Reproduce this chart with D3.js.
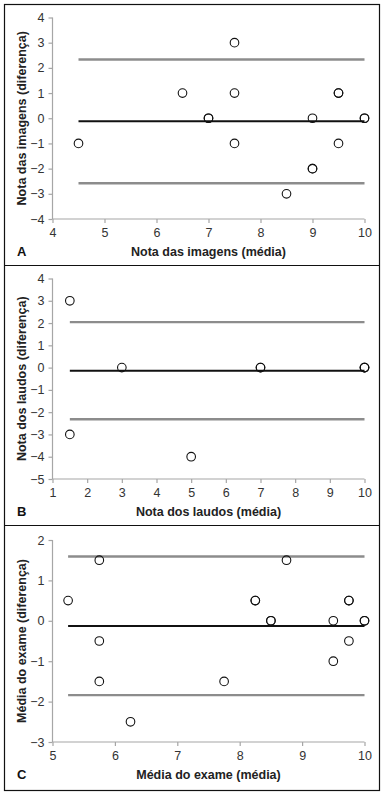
<!DOCTYPE html>
<html>
<head>
<meta charset="utf-8">
<script src="https://cdn.jsdelivr.net/npm/d3@7"></script>
<style>
  body { margin: 0; background: #fff; }
  svg { display: block; font-family: "Liberation Sans", Arial, sans-serif; }
</style>
</head>
<body>
<svg id="chart" width="384" height="792"></svg>
<script>
// Panel A - imagens
const aMean = [4.5, 6.5, 7, 7, 7.5, 7.5, 7.5, 8.5, 9, 9, 9, 9.5, 9.5, 9.5, 10, 10];
const aDiff = [-1, 1, 0, 0, 3, 1, -1, -3, 0, -2, -2, 1, 1, -1, 0, 0];
const aLines = [2.33, -0.12, -2.58];
const aXTicks = [4, 5, 6, 7, 8, 9, 10];
const aYTicks = [4, 3, 2, 1, 0, -1, -2, -3, -4];

// Panel B - laudos
const bMean = [1.5, 1.5, 3, 5, 7, 7, 10, 10, 10];
const bDiff = [3, -3, 0, -4, 0, 0, 0, 0, 0];
const bLines = [2.04, -0.14, -2.32];
const bXTicks = [1, 2, 3, 4, 5, 6, 7, 8, 9, 10];
const bYTicks = [4, 3, 2, 1, 0, -1, -2, -3, -4, -5];

// Panel C - exame
const cMean = [5.25, 5.75, 5.75, 5.75, 6.25, 7.75, 8.25, 8.25, 8.5, 8.5, 8.75, 9.5, 9.5, 9.75, 9.75, 9.75, 10, 10];
const cDiff = [0.5, 1.5, -0.5, -1.5, -2.5, -1.5, 0.5, 0.5, 0, 0, 1.5, 0, -1, 0.5, 0.5, -0.5, 0, 0];
const cLines = [1.59, -0.13, -1.84];
const cXTicks = [5, 6, 7, 8, 9, 10];
const cYTicks = [2, 1, 0, -1, -2, -3];

const panels = [
  { tag: 'A', top: 4, mean: aMean, diff: aDiff, lines: aLines, xt: aXTicks, yt: aYTicks,
    xTitle: 'Nota das imagens (média)', yTitle: 'Nota das imagens (diferença)',
    y0: 17.5, y1: 219, lineFrom: 4.5 },
  { tag: 'B', top: 265, mean: bMean, diff: bDiff, lines: bLines, xt: bXTicks, yt: bYTicks,
    xTitle: 'Nota dos laudos (média)', yTitle: 'Nota dos laudos (diferença)',
    y0: 278.5, y1: 479, lineFrom: 1.5 },
  { tag: 'C', top: 525, mean: cMean, diff: cDiff, lines: cLines, xt: cXTicks, yt: cYTicks,
    xTitle: 'Média do exame (média)', yTitle: 'Média do exame (diferença)',
    y0: 540, y1: 742, lineFrom: 5.25 }
];

const svg = d3.select('#chart');
const left = 52.5, right = 364.5;

// outer frame and separators
svg.append('rect')
  .attr('x', 4.5).attr('y', 4.5)
  .attr('width', 375).attr('height', 786)
  .attr('fill', 'none').attr('stroke', '#111').attr('stroke-width', 1.2);
[265, 525].forEach(yy => {
  svg.append('line')
    .attr('x1', 4.5).attr('x2', 379.5)
    .attr('y1', yy + 0.5).attr('y2', yy + 0.5)
    .attr('stroke', '#111').attr('stroke-width', 1.2);
});

panels.forEach(p => {
  const x = d3.scaleLinear()
    .domain(d3.extent(p.xt))
    .range([left, right]);
  const y = d3.scaleLinear()
    .domain([d3.max(p.yt), d3.min(p.yt)])
    .range([p.y0, p.y1]);

  const g = svg.append('g');

  const xAxis = g.append('g')
    .attr('transform', `translate(0, ${p.y1})`)
    .call(d3.axisBottom(x).tickValues(p.xt).tickSize(4).tickPadding(5).tickFormat(d3.format('d')));
  const yAxis = g.append('g')
    .attr('transform', `translate(${left}, 0)`)
    .call(d3.axisLeft(y).tickValues(p.yt).tickSize(4).tickPadding(4).tickFormat(d3.format('d')));

  [xAxis, yAxis].forEach(ax => {
    ax.selectAll('path, line').attr('stroke', '#a6a6a6').attr('stroke-width', 1.2);
    ax.select('.domain').attr('d', null);
    ax.selectAll('text')
      .attr('fill', '#333')
      .style('font-size', '12.5px')
      .style('font-family', '"Liberation Sans", Arial, sans-serif');
  });
  // axis lines without end caps
  g.append('line')
    .attr('x1', left).attr('x2', right).attr('y1', p.y1).attr('y2', p.y1)
    .attr('stroke', '#a6a6a6').attr('stroke-width', 1.2);
  g.append('line')
    .attr('x1', left).attr('x2', left).attr('y1', p.y0).attr('y2', p.y1)
    .attr('stroke', '#a6a6a6').attr('stroke-width', 1.2);

  // limits of agreement and mean difference
  p.lines.forEach((v, i) => {
    g.append('line')
      .attr('x1', x(p.lineFrom)).attr('x2', x(d3.max(p.xt)))
      .attr('y1', y(v)).attr('y2', y(v))
      .attr('stroke', i === 1 ? '#111' : '#8c8c8c')
      .attr('stroke-width', i === 1 ? 2 : 2.4);
  });

  // points
  g.selectAll('circle')
    .data(p.mean.map((m, i) => ({ m, d: p.diff[i] })))
    .join('circle')
    .attr('cx', d => x(d.m))
    .attr('cy', d => y(d.d))
    .attr('r', 4.3)
    .attr('fill', 'none')
    .attr('stroke', '#111')
    .attr('stroke-width', 1.1);

  // titles
  g.append('text')
    .attr('x', (left + right) / 2)
    .attr('y', p.y1 + 37)
    .attr('text-anchor', 'middle')
    .attr('font-size', 12.5)
    .attr('font-weight', 'bold')
    .attr('fill', '#222')
    .text(p.xTitle);
  g.append('text')
    .attr('transform', `translate(22, ${(p.y0 + p.y1) / 2}) rotate(-90)`)
    .attr('dy', '0.35em')
    .attr('text-anchor', 'middle')
    .attr('font-size', 12.5)
    .attr('font-weight', 'bold')
    .attr('fill', '#222')
    .text(p.yTitle);
  g.append('text')
    .attr('x', 17)
    .attr('y', p.y1 + 37)
    .attr('font-size', 13)
    .attr('font-weight', 'bold')
    .attr('fill', '#111')
    .text(p.tag);
});
</script>
</body>
</html>
